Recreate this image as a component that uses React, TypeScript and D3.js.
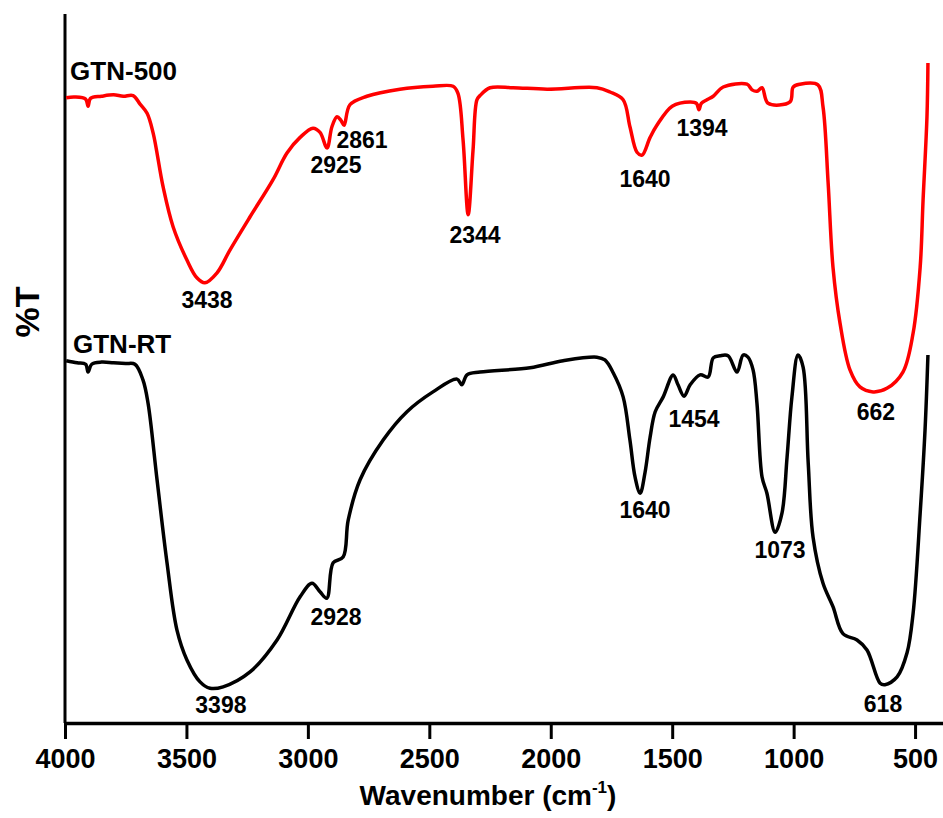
import React, {useEffect, useRef} from "react";
import * as d3 from "d3";

// FTIR spectra, [wavenumber (cm-1), %T]
const gtn500: [number, number][] = [
    [3995, 88.2], [3960, 88.3], [3915, 88.0], [3905, 87.0], [3895, 88.1], [3850, 88.4],
    [3800, 88.6], [3760, 88.4], [3720, 88.5], [3691, 87.3], [3662, 86.0], [3637, 83.2],
    [3596, 75.6], [3555, 70.0], [3498, 65.3], [3457, 62.8], [3424, 62.1], [3374, 63.5],
    [3321, 66.7], [3238, 71.4], [3144, 76.6], [3086, 80.4], [3032, 82.6], [2979, 83.9],
    [2950, 83.3], [2921, 81.1], [2901, 84.1], [2880, 85.5], [2864, 85.0], [2851, 84.3],
    [2827, 87.2], [2757, 88.4], [2621, 89.4], [2485, 89.8], [2402, 89.8], [2382, 88.8],
    [2361, 82.2], [2340, 71.7], [2320, 80.8], [2304, 87.9], [2291, 88.5], [2250, 89.6],
    [2155, 89.6], [2015, 89.4], [1810, 89.6], [1756, 89.0], [1702, 87.9], [1674, 84.1],
    [1645, 80.5], [1624, 80.1], [1591, 82.6], [1563, 84.3], [1500, 87.0], [1426, 87.6],
    [1400, 87.4], [1390, 86.5], [1380, 87.4], [1357, 87.9], [1331, 88.4], [1290, 89.7],
    [1192, 90.1], [1171, 89.3], [1151, 89.1], [1130, 89.6], [1105, 87.4], [1015, 87.6],
    [1002, 89.7], [974, 90.1], [900, 90.0], [879, 86.9], [858, 76.2], [838, 64.3],
    [809, 56.4], [768, 49.8], [727, 47.4], [673, 46.7], [616, 47.2], [550, 49.5],
    [508, 55.0], [479, 64.3], [467, 73.8], [451, 85.5], [447, 93.1]
];

const gtnRT: [number, number][] = [
    [3995, 51.1], [3950, 50.8], [3915, 50.6], [3905, 49.5], [3890, 50.6], [3850, 50.9],
    [3800, 50.8], [3750, 50.7], [3712, 50.6], [3679, 48.4], [3658, 45.1], [3621, 34.3],
    [3580, 22.6], [3539, 13.1], [3498, 8.9], [3444, 5.8], [3403, 4.9], [3349, 5.1],
    [3238, 7.2], [3127, 11.7], [3032, 17.8], [2983, 19.7], [2950, 18.5], [2922, 17.6],
    [2896, 22.6], [2855, 23.4], [2834, 28.6], [2785, 34.3], [2690, 39.9], [2592, 43.9],
    [2485, 46.7], [2386, 48.5], [2366, 47.7], [2345, 49.1], [2291, 49.5], [2085, 50.1],
    [1949, 51.1], [1810, 51.6], [1777, 51.2], [1743, 49.4], [1702, 46.0], [1674, 39.9],
    [1653, 34.7], [1632, 32.4], [1612, 35.3], [1591, 40.3], [1570, 43.9], [1537, 46.0],
    [1496, 49.1], [1476, 47.7], [1451, 46.1], [1426, 47.7], [1385, 49.1], [1352, 48.8],
    [1331, 51.5], [1303, 51.8], [1270, 51.8], [1233, 49.5], [1208, 51.9], [1188, 51.6],
    [1167, 49.8], [1151, 45.1], [1130, 34.7], [1110, 32.4], [1076, 26.9], [1048, 29.6],
    [1027, 37.5], [1007, 46.0], [982, 51.9], [961, 50.2], [940, 36.7], [920, 26.2],
    [879, 19.7], [838, 16.4], [797, 12.6], [739, 11.7], [698, 10.3], [644, 5.6],
    [624, 5.4], [574, 6.5], [533, 9.9], [508, 15.5], [479, 29.6], [459, 41.3], [447, 51.9]
];

// peak labels: text, anchor wavenumber, anchor %T
const peakLabels: [string, number, number][] = [
    ["3438", 3415, 58.5], ["2925", 2884, 77.6], ["2861", 2777, 81.1], ["2344", 2312, 67.7],
    ["1640", 1612, 75.6], ["1394", 1377, 82.8], ["662", 661, 42.7],
    ["3398", 3358, 1.4], ["2928", 2884, 13.8], ["1640", 1612, 28.9], ["1454", 1410, 41.7],
    ["1073", 1056, 23.3], ["618", 632, 1.6]
];

const seriesNames: [string, number, number][] = [["GTN-500", 3979, 90.7], ["GTN-RT", 3967, 52.2]];
const tickValues = [4000, 3500, 3000, 2500, 2000, 1500, 1000, 500];

const App: React.FC = () => {
    const svgRef = useRef<SVGSVGElement | null>(null);

    useEffect(() => {
        if (!svgRef.current) return;
        const svg = d3.select(svgRef.current);
        svg.selectAll("*").remove();

        const font = "'Liberation Sans', Arial, sans-serif";
        const x = d3.scaleLinear().domain([4000, 385]).range([65, 943]);
        const y = d3.scaleLinear().domain([0, 100]).range([723, 14]);

        const line = d3.line<[number, number]>()
            .x(d => x(d[0]))
            .y(d => y(d[1]))
            .curve(d3.curveCatmullRom.alpha(0.5));

        // y axis line only
        svg.append("line")
            .attr("x1", x(4000)).attr("x2", x(4000))
            .attr("y1", y(100)).attr("y2", y(0))
            .attr("stroke", "#000").attr("stroke-width", 3);

        const xAxis = svg.append("g")
            .attr("transform", `translate(0,${y(0)})`)
            .call(d3.axisBottom(x).tickValues(tickValues).tickSize(16).tickSizeOuter(0).tickPadding(10).tickFormat(d3.format("d")));
        xAxis.select(".domain").attr("stroke-width", 3.5);
        xAxis.selectAll(".tick line").attr("stroke-width", 3);
        xAxis.selectAll(".tick text")
            .attr("font-family", font).attr("font-size", 27).attr("font-weight", "bold").attr("fill", "#000");

        svg.append("path").datum(gtn500)
            .attr("d", line).attr("fill", "none").attr("stroke", "#ff0000").attr("stroke-width", 3.5);
        svg.append("path").datum(gtnRT)
            .attr("d", line).attr("fill", "none").attr("stroke", "#000").attr("stroke-width", 3.5);

        svg.selectAll(".peak").data(peakLabels).enter().append("text")
            .attr("class", "peak")
            .attr("x", d => x(d[1])).attr("y", d => y(d[2]))
            .attr("text-anchor", "middle")
            .attr("font-family", font).attr("font-size", 23).attr("font-weight", "bold")
            .text(d => d[0]);

        svg.selectAll(".series").data(seriesNames).enter().append("text")
            .attr("class", "series")
            .attr("x", d => x(d[1])).attr("y", d => y(d[2]))
            .attr("font-family", font).attr("font-size", 26).attr("font-weight", "bold")
            .text(d => d[0]);

        const title = svg.append("text")
            .attr("x", 488).attr("y", 805)
            .attr("text-anchor", "middle")
            .attr("font-family", font).attr("font-size", 28).attr("font-weight", "bold");
        title.append("tspan").text("Wavenumber (cm");
        title.append("tspan").attr("font-size", 17).attr("dy", -12).text("-1");
        title.append("tspan").attr("dy", 12).text(")");

        svg.append("text")
            .attr("transform", "translate(39,312) rotate(-90)")
            .attr("text-anchor", "middle")
            .attr("font-family", font).attr("font-size", 34).attr("font-weight", "bold")
            .text("%T");
    }, []);

    return (
        <svg ref={svgRef} width={943} height={818}
             style={{position: "absolute", left: 0, top: 0, background: "#fff"}}/>
    );
};

export default App;
